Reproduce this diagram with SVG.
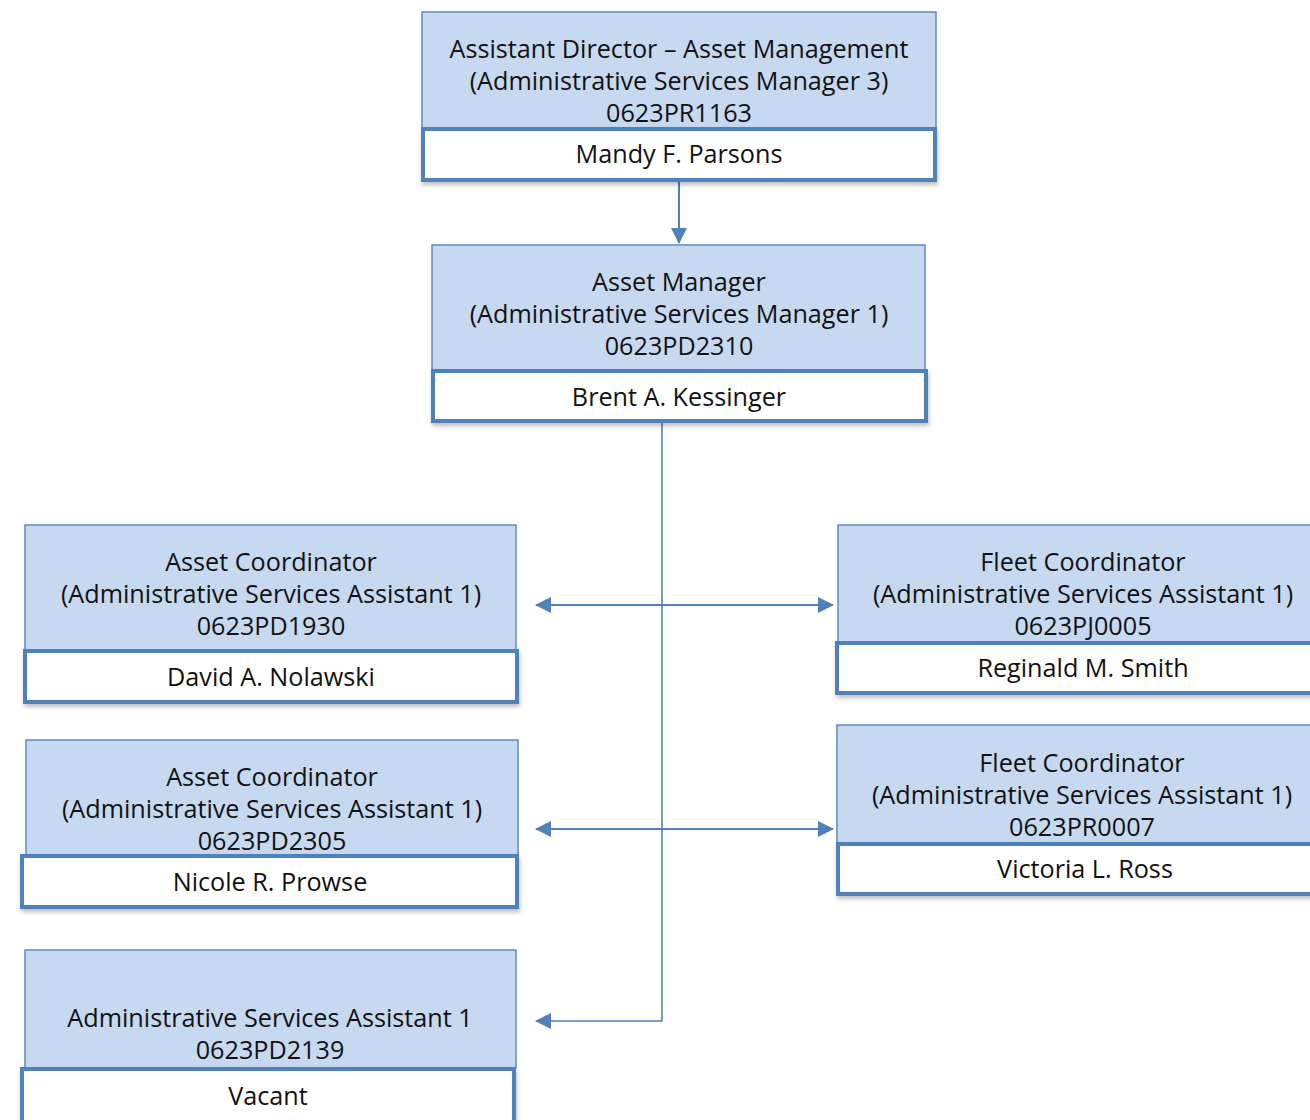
<svg xmlns="http://www.w3.org/2000/svg" width="1310" height="1120" viewBox="0 0 1310 1120">
<style>
.hd{fill:#C6D9F1;stroke:#5B8BC8;stroke-width:1.5}
.nm{fill:#FFFFFF;stroke:#4F81BD;stroke-width:4;filter:url(#sh)}
text{font-family:"Open Sans","Noto Sans","Liberation Sans",sans-serif;font-size:25.2px;fill:#111;text-anchor:middle}
.cn{fill:none;stroke:#4F81BD;stroke-width:2}
</style>
<defs>
<filter id="sh" x="-5%" y="-20%" width="110%" height="150%">
<feDropShadow dx="1" dy="3" stdDeviation="2" flood-color="#000" flood-opacity="0.25"/>
</filter>
<marker id="ah" markerUnits="userSpaceOnUse" markerWidth="16" markerHeight="16" viewBox="0 0 16 16" refX="15" refY="8" orient="auto-start-reverse">
<path d="M0,0 L16,8 L0,16 Z" fill="#4F81BD"/>
</marker>
</defs>
<rect width="1310" height="1120" fill="#FFFFFF"/>

<g id="connectors">
<path class="cn" d="M679,180 V243" marker-end="url(#ah)"/>
<path class="cn" d="M662,423 V1021 H536" marker-end="url(#ah)" style="stroke-width:1.6"/>
<path class="cn" d="M536,605 H833" marker-start="url(#ah)" marker-end="url(#ah)"/>
<path class="cn" d="M536,829 H833" marker-start="url(#ah)" marker-end="url(#ah)"/>
</g>

<g id="node-asst-director">
<rect class="hd" x="422" y="12" width="514" height="116"/>
<rect class="nm" x="423" y="129" width="512" height="51"/>
<text x="679" y="58">Assistant Director – Asset Management</text>
<text x="679" y="90">(Administrative Services Manager 3)</text>
<text x="679" y="122">0623PR1163</text>
<text x="679" y="163">Mandy F. Parsons</text>
</g>

<g id="node-asset-manager">
<rect class="hd" x="432" y="245" width="493" height="125"/>
<rect class="nm" x="433" y="371" width="493" height="50"/>
<text x="679" y="291">Asset Manager</text>
<text x="679" y="323">(Administrative Services Manager 1)</text>
<text x="679" y="355">0623PD2310</text>
<text x="679" y="406">Brent A. Kessinger</text>
</g>

<g id="node-asset-coord-1">
<rect class="hd" x="25" y="525" width="491" height="125"/>
<rect class="nm" x="25" y="651" width="492" height="51"/>
<text x="271" y="571">Asset Coordinator</text>
<text x="271" y="603">(Administrative Services Assistant 1)</text>
<text x="271" y="635">0623PD1930</text>
<text x="271" y="686">David A. Nolawski</text>
</g>

<g id="node-asset-coord-2">
<rect class="hd" x="26" y="740" width="492" height="115"/>
<rect class="nm" x="22" y="856" width="495" height="51"/>
<text x="272" y="786">Asset Coordinator</text>
<text x="272" y="818">(Administrative Services Assistant 1)</text>
<text x="272" y="850">0623PD2305</text>
<text x="270" y="891">Nicole R. Prowse</text>
</g>

<g id="node-asa-vacant">
<rect class="hd" x="25" y="950" width="491" height="118"/>
<rect class="nm" x="22" y="1069" width="492" height="60"/>
<text x="270" y="1027">Administrative Services Assistant 1</text>
<text x="270" y="1059">0623PD2139</text>
<text x="268" y="1105">Vacant</text>
</g>

<g id="node-fleet-coord-1">
<rect class="hd" x="838" y="525" width="490" height="117"/>
<rect class="nm" x="837" y="643" width="492" height="50"/>
<text x="1083" y="571">Fleet Coordinator</text>
<text x="1083" y="603">(Administrative Services Assistant 1)</text>
<text x="1083" y="635">0623PJ0005</text>
<text x="1083" y="677">Reginald M. Smith</text>
</g>

<g id="node-fleet-coord-2">
<rect class="hd" x="837" y="725" width="490" height="118"/>
<rect class="nm" x="838" y="844" width="492" height="50"/>
<text x="1082" y="772">Fleet Coordinator</text>
<text x="1082" y="804">(Administrative Services Assistant 1)</text>
<text x="1082" y="836">0623PR0007</text>
<text x="1085" y="878">Victoria L. Ross</text>
</g>
</svg>
